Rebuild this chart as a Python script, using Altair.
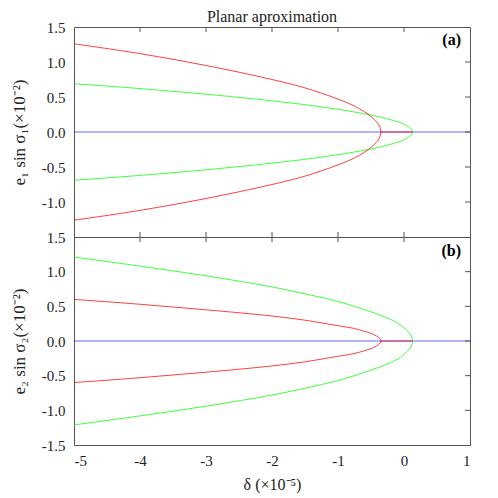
import altair as alt
import pandas as pd

# ---------------- data ----------------
X_TICKS = [-5, -4, -3, -2, -1, 0, 1]
Y_TICKS = [-1.5, -1.0, -0.5, 0.0, 0.5, 1.0, 1.5]
INNER_X_TICKS = [-4, -3, -2, -1, 0]
INNER_Y_TICKS = [-1.0, -0.5, 0.0, 0.5, 1.0]

# red family: upper branch from delta=-5 to the vertex
RED_DELTA = [-5, -4, -3, -2, -1.5, -1, -0.75, -0.6, -0.5, -0.42, -0.38, -0.36, -0.35]
# green family: upper branch from delta=-5 to the vertex
GREEN_DELTA = [-5, -4, -3, -2, -1.5, -1, -0.5, -0.2, -0.05, 0.03, 0.08, 0.11, 0.13]

# panel (a)
A_RED_UP = [1.26, 1.12, 0.95, 0.75, 0.63, 0.47, 0.37, 0.29, 0.22, 0.15, 0.10, 0.05, 0.0]
A_RED_LOW = [-1.26, -1.12, -0.95, -0.75, -0.63, -0.47, -0.37, -0.29, -0.22, -0.15, -0.10, -0.05, 0.0]
A_GREEN_UP = [0.69, 0.62, 0.54, 0.445, 0.39, 0.324, 0.242, 0.175, 0.13, 0.096, 0.068, 0.043, 0.0]
A_GREEN_LOW = [-0.69, -0.62, -0.54, -0.445, -0.39, -0.324, -0.242, -0.175, -0.13, -0.096, -0.068, -0.043, 0.0]

# panel (b)
B_RED_UP = [0.60, 0.53, 0.45, 0.36, 0.30, 0.22, 0.18, 0.14, 0.11, 0.074, 0.048, 0.028, 0.0]
B_RED_LOW = [-0.60, -0.53, -0.45, -0.36, -0.30, -0.22, -0.18, -0.14, -0.11, -0.074, -0.048, -0.028, 0.0]
B_GREEN_UP = [1.21, 1.08, 0.94, 0.78, 0.68, 0.57, 0.42, 0.31, 0.23, 0.168, 0.119, 0.075, 0.0]
B_GREEN_LOW = [-1.21, -1.08, -0.94, -0.78, -0.68, -0.57, -0.42, -0.31, -0.23, -0.168, -0.119, -0.075, 0.0]

# horizontal lines at zero
BLUE_DELTA = [-5, 1]
BLUE_Y = [0.0, 0.0]
SEG_DELTA = [-0.35, 0.13]
SEG_Y = [0.0, 0.0]

FONT = "Liberation Serif"
TXT = "#222222"
FRAME = "#555555"
W, H_A, H_B = 396, 210, 208


def branch_df(delta, low, up):
    rows = []
    k = 0
    for d, v in zip(delta, low):
        rows.append({"d": d, "v": v, "o": k})
        k += 1
    for d, v in zip(reversed(delta[:-1]), reversed(up[:-1])):
        rows.append({"d": d, "v": v, "o": k})
        k += 1
    return pd.DataFrame(rows)


xs = alt.Scale(domain=[-5, 1], nice=False, zero=False)
ys = alt.Scale(domain=[-1.5, 1.5], nice=False, zero=False)

label_expr = "(datum.value < 0 ? '-' : '') + format(abs(datum.value), '.1f')"

ya = alt.Axis(values=[1.5, 1.0, 0.5, 0.0, -0.5, -1.0], labelExpr=label_expr,
              title="e\u2081 sin \u03c3\u2081(\u00d710\u207b\u00b2)")
yb = alt.Axis(values=Y_TICKS, labelExpr=label_expr,
              title="e\u2082 sin \u03c3\u2082(\u00d710\u207b\u00b2)")
xb = alt.Axis(values=X_TICKS,
              labelExpr="(datum.value < 0 ? '-' : '') + format(abs(datum.value), 'd')",
              title="\u03b4 (\u00d710\u207b\u2075)")


def lines(df, color, xaxis, yaxis, op=0.75):
    return alt.Chart(df).mark_line(
        color=color, strokeWidth=1, strokeOpacity=op, interpolate="catmull-rom"
    ).encode(
        x=alt.X("d:Q", scale=xs, axis=xaxis),
        y=alt.Y("v:Q", scale=ys, axis=yaxis),
        order="o:Q",
    )


def ticks(height, xaxis, yaxis, bottom_up=False):
    tx = pd.DataFrame({"t": INNER_X_TICKS})
    ty = pd.DataFrame({"t": INNER_Y_TICKS})
    layers = [alt.Chart(tx).mark_rule(color=FRAME, strokeWidth=1).encode(
        x=alt.X("t:Q", scale=xs, axis=xaxis), y=alt.value(0), y2=alt.value(5))]
    if bottom_up:
        layers.append(alt.Chart(tx).mark_rule(color=FRAME, strokeWidth=1).encode(
            x=alt.X("t:Q", scale=xs, axis=xaxis), y=alt.value(height), y2=alt.value(height - 5)))
    layers.append(alt.Chart(ty).mark_rule(color=FRAME, strokeWidth=1).encode(
        y=alt.Y("t:Q", scale=ys, axis=yaxis), x=alt.value(W), x2=alt.value(W - 5)))
    return layers


df_blue = pd.DataFrame({"d": BLUE_DELTA, "v": BLUE_Y, "o": [0, 1]})
df_seg = pd.DataFrame({"d": SEG_DELTA, "v": SEG_Y, "o": [0, 1]})

title_mark = alt.Chart(pd.DataFrame({"t": ["Planar aproximation"]})).mark_text(
    font=FONT, fontSize=16, color=TXT, align="center", baseline="top"
).encode(text="t:N", x=alt.value(W / 2), y=alt.value(-18))

lab_a = alt.Chart(pd.DataFrame({"t": ["(a)"]})).mark_text(
    font=FONT, fontSize=16, fontWeight="bold", color="#000000", align="right", baseline="middle"
).encode(text="t:N", x=alt.value(W - 9), y=alt.value(13))

lab_b = alt.Chart(pd.DataFrame({"t": ["(b)"]})).mark_text(
    font=FONT, fontSize=16, fontWeight="bold", color="#000000", align="right", baseline="middle"
).encode(text="t:N", x=alt.value(W - 9), y=alt.value(14))

top = alt.layer(
    lines(df_blue, "#0000ff", None, ya, 0.6),
    lines(branch_df(GREEN_DELTA, A_GREEN_LOW, A_GREEN_UP), "#00ff00", None, ya),
    lines(branch_df(RED_DELTA, A_RED_LOW, A_RED_UP), "#ff0000", None, ya),
    lines(df_seg, "#ff0000", None, ya),
    *ticks(H_A, None, ya, bottom_up=True),
    title_mark,
    lab_a,
).properties(width=W, height=H_A)

bottom = alt.layer(
    lines(df_blue, "#0000ff", xb, yb, 0.6),
    lines(branch_df(GREEN_DELTA, B_GREEN_LOW, B_GREEN_UP), "#00ff00", xb, yb),
    lines(branch_df(RED_DELTA, B_RED_LOW, B_RED_UP), "#ff0000", xb, yb),
    lines(df_seg, "#ff0000", xb, yb),
    *ticks(H_B, xb, yb, bottom_up=False),
    lab_b,
).properties(width=W, height=H_B)

chart = alt.vconcat(top, bottom, spacing=0, bounds="flush").properties(
    padding={"left": 1, "top": 0, "right": 5, "bottom": 0}
).configure_view(
    stroke=FRAME, strokeWidth=1
).configure_axis(
    domain=False, ticks=False, grid=False, labelOverlap=False,
    labelFont=FONT, labelFontSize=15, labelColor=TXT,
    titleFont=FONT, titleFontSize=16, titleFontWeight="normal", titleColor=TXT,
).configure_axisY(
    labelPadding=9, titlePadding=13, titleFontSize=17,
).configure_axisX(
    labelPadding=8, titlePadding=8,
)

chart.save("out.html", embed_options={"renderer": "svg", "actions": False})
